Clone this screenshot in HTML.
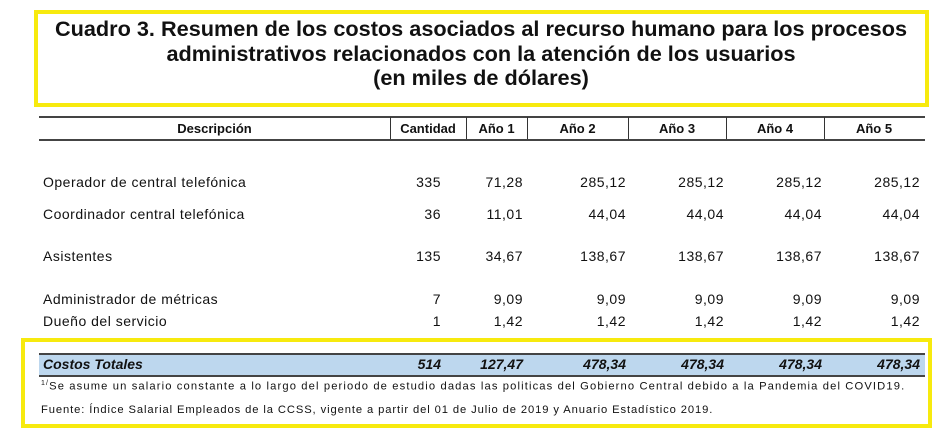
<!DOCTYPE html>
<html><head><meta charset="utf-8"><style>
body{margin:0;width:939px;height:436px;background:#fff;position:relative;overflow:hidden;font-family:"Liberation Sans",sans-serif;color:#111}
.a{position:absolute;white-space:nowrap}
.t{font-weight:bold;font-size:21.7px;text-align:center;left:36px;width:890px;line-height:23px}
.c{font-family:"Liberation Sans",sans-serif;font-size:14px;letter-spacing:0.5px}
.r{text-align:right}
.h{font-weight:bold;font-size:13px;text-align:center;top:121px}
.v{position:absolute;top:117px;height:22px;border-left:1.5px solid #333}
.b{font-weight:bold;font-style:italic;letter-spacing:0}
</style></head><body>
<div class="a" style="left:34px;top:10px;width:887px;height:89px;border:4px solid #f7ea0e"></div>
<div class="a t" style="top:17px">Cuadro 3. Resumen de los costos asociados al recurso humano para los procesos</div>
<div class="a t" style="top:42px">administrativos relacionados con la atención de los usuarios</div>
<div class="a t" style="top:66px">(en miles de dólares)</div>

<div class="a" style="left:39px;top:116px;width:886px;border-top:2px solid #444"></div>
<div class="a" style="left:39px;top:139px;width:886px;border-top:2px solid #444"></div>
<div class="v" style="left:390px"></div><div class="v" style="left:466px"></div><div class="v" style="left:527px"></div>
<div class="v" style="left:628px"></div><div class="v" style="left:726px"></div><div class="v" style="left:824px"></div>
<div class="a h" style="left:39px;width:351px">Descripción</div>
<div class="a h" style="left:390px;width:76px">Cantidad</div>
<div class="a h" style="left:466px;width:61px">Año 1</div>
<div class="a h" style="left:527px;width:101px">Año 2</div>
<div class="a h" style="left:628px;width:98px">Año 3</div>
<div class="a h" style="left:726px;width:98px">Año 4</div>
<div class="a h" style="left:824px;width:100px">Año 5</div>

<div class="a c" style="left:43px;top:174px">Operador de central telefónica</div>
<div class="a c r" style="left:390px;width:51px;top:174px">335</div>
<div class="a c r" style="left:466px;width:57px;top:174px">71,28</div>
<div class="a c r" style="left:527px;width:99px;top:174px">285,12</div>
<div class="a c r" style="left:628px;width:96px;top:174px">285,12</div>
<div class="a c r" style="left:726px;width:96px;top:174px">285,12</div>
<div class="a c r" style="left:824px;width:96px;top:174px">285,12</div>

<div class="a c" style="left:43px;top:206px">Coordinador central telefónica</div>
<div class="a c r" style="left:390px;width:51px;top:206px">36</div>
<div class="a c r" style="left:466px;width:57px;top:206px">11,01</div>
<div class="a c r" style="left:527px;width:99px;top:206px">44,04</div>
<div class="a c r" style="left:628px;width:96px;top:206px">44,04</div>
<div class="a c r" style="left:726px;width:96px;top:206px">44,04</div>
<div class="a c r" style="left:824px;width:96px;top:206px">44,04</div>

<div class="a c" style="left:43px;top:248px">Asistentes</div>
<div class="a c r" style="left:390px;width:51px;top:248px">135</div>
<div class="a c r" style="left:466px;width:57px;top:248px">34,67</div>
<div class="a c r" style="left:527px;width:99px;top:248px">138,67</div>
<div class="a c r" style="left:628px;width:96px;top:248px">138,67</div>
<div class="a c r" style="left:726px;width:96px;top:248px">138,67</div>
<div class="a c r" style="left:824px;width:96px;top:248px">138,67</div>

<div class="a c" style="left:43px;top:291px">Administrador de métricas</div>
<div class="a c r" style="left:390px;width:51px;top:291px">7</div>
<div class="a c r" style="left:466px;width:57px;top:291px">9,09</div>
<div class="a c r" style="left:527px;width:99px;top:291px">9,09</div>
<div class="a c r" style="left:628px;width:96px;top:291px">9,09</div>
<div class="a c r" style="left:726px;width:96px;top:291px">9,09</div>
<div class="a c r" style="left:824px;width:96px;top:291px">9,09</div>

<div class="a c" style="left:43px;top:313px">Dueño del servicio</div>
<div class="a c r" style="left:390px;width:51px;top:313px">1</div>
<div class="a c r" style="left:466px;width:57px;top:313px">1,42</div>
<div class="a c r" style="left:527px;width:99px;top:313px">1,42</div>
<div class="a c r" style="left:628px;width:96px;top:313px">1,42</div>
<div class="a c r" style="left:726px;width:96px;top:313px">1,42</div>
<div class="a c r" style="left:824px;width:96px;top:313px">1,42</div>

<div class="a" style="left:21px;top:338px;width:903px;height:82px;border:4px solid #f7ea0e"></div>
<div class="a" style="left:39px;top:353px;width:886px;height:20px;background:#bdd7ee;border-top:2px solid #444;border-bottom:2px solid #444"></div>
<div class="a c b" style="left:43px;top:356px">Costos Totales</div>
<div class="a c r b" style="left:390px;width:51px;top:356px">514</div>
<div class="a c r b" style="left:466px;width:57px;top:356px">127,47</div>
<div class="a c r b" style="left:527px;width:99px;top:356px">478,34</div>
<div class="a c r b" style="left:628px;width:96px;top:356px">478,34</div>
<div class="a c r b" style="left:726px;width:96px;top:356px">478,34</div>
<div class="a c r b" style="left:824px;width:96px;top:356px">478,34</div>
<div class="a" style="left:41px;top:380px;font-size:11.2px;letter-spacing:1.13px"><sup style="font-size:7px">1/</sup>Se asume un salario constante a lo largo del periodo de estudio dadas las politicas del Gobierno Central debido a la Pandemia del COVID19.</div>
<div class="a" style="left:41px;top:404px;font-size:11.2px;letter-spacing:0.9px">Fuente: Índice Salarial Empleados de la CCSS, vigente a partir del 01 de Julio de 2019 y Anuario Estadístico 2019.</div>
</body></html>
